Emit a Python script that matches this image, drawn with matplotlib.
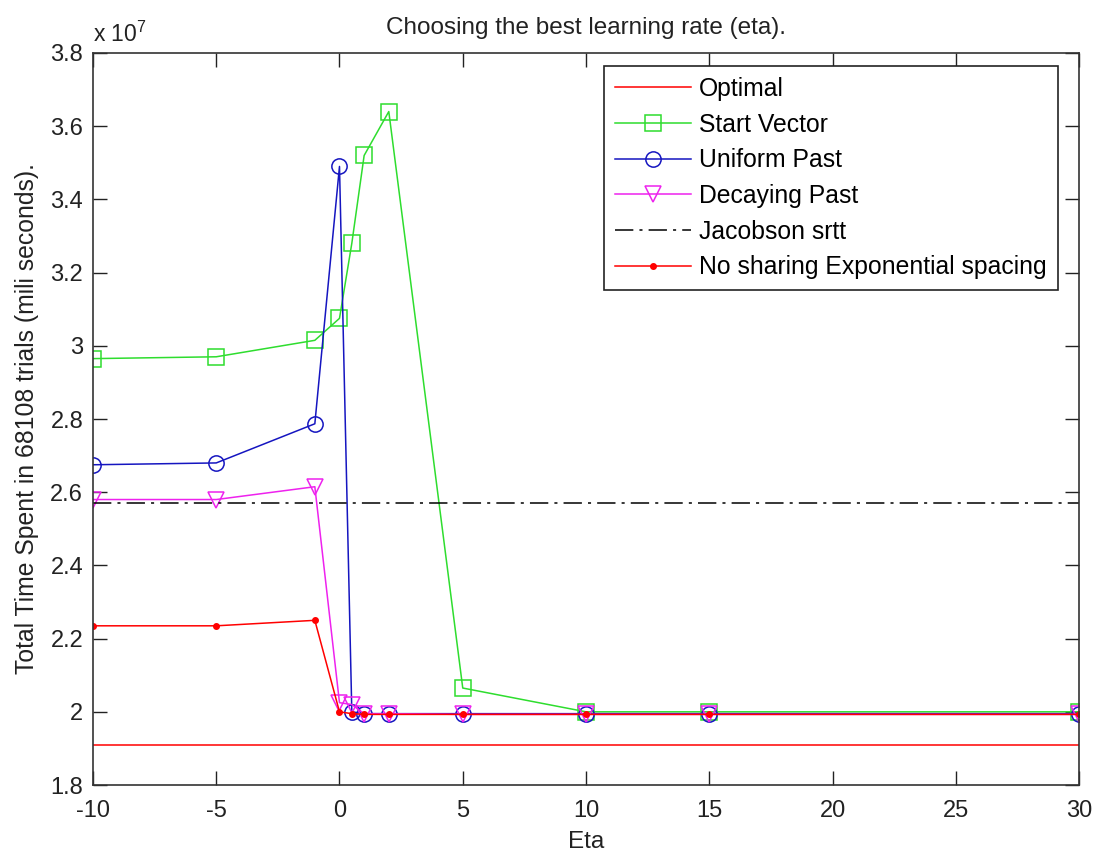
import numpy as np
import matplotlib
matplotlib.use("Agg")
import matplotlib.pyplot as plt
from matplotlib.ticker import FuncFormatter

plt.rcParams['font.family'] = ['Liberation Sans', 'DejaVu Sans']
plt.rcParams['axes.unicode_minus'] = False
plt.rcParams['mathtext.fontset'] = 'custom'
plt.rcParams['mathtext.rm'] = 'Liberation Sans'

# eta values tried
eta = [-10, -5, -1, 0, 0.5, 1, 2, 5, 10, 15, 30]

# total time spent (units of 1e7 ms)
start_vector = [2.965, 2.97, 3.015, 3.075, 3.28, 3.52, 3.64, 2.065, 2.0, 2.0, 2.0]
uniform_past = [2.675, 2.68, 2.787, 3.49, 2.0, 1.995, 1.995, 1.995, 1.995, 1.995, 1.995]
decaying_past = [2.58, 2.58, 2.615, 2.025, 2.02, 1.995, 1.995, 1.993, 1.993, 1.993, 1.993]
no_sharing = [2.235, 2.235, 2.25, 2.0, 1.995, 1.993, 1.993, 1.993, 1.993, 1.993, 1.993]
optimal = 1.909
jacobson = 2.57

scale = 1e7
x_range = [-10, 30]
fs = 17.5

fig = plt.figure(figsize=(11, 8.52), dpi=100)
ax = fig.add_axes([0.0845, 0.0786, 0.8965, 0.8592])

ax.plot(x_range, np.array([optimal, optimal]) * scale, color='red', lw=1.1,
        label='Optimal')
ax.plot(eta, np.array(start_vector) * scale, color='#2edd2e', lw=1.1,
        marker='s', ms=12, mfc='none', mec='#2edd2e', mew=1.1, label='Start Vector')
ax.plot(eta, np.array(uniform_past) * scale, color='#1515c0', lw=1.1,
        marker='o', ms=11, mfc='none', mec='#1515c0', mew=1.1, label='Uniform Past')
ax.plot(eta, np.array(decaying_past) * scale, color='#ee22ee', lw=1.1,
        marker='v', ms=12, mfc='none', mec='#ee22ee', mew=1.1, label='Decaying Past')
ax.plot(x_range, np.array([jacobson, jacobson]) * scale, color='black', lw=1.1,
        ls=(0, (12, 4, 2, 4)), label='Jacobson srtt')
ax.plot(eta, np.array(no_sharing) * scale, color='red', lw=1.1,
        marker='.', ms=8, label='No sharing Exponential spacing')

ax.set_xlim(-10, 30)
ax.set_ylim(1.8e7, 3.8e7)
ax.set_xticks(np.arange(-10, 31, 5))
ax.set_yticks(np.arange(1.8, 3.81, 0.2) * scale)
ax.yaxis.set_major_formatter(FuncFormatter(lambda v, p: ('%.1f' % (v / scale)).rstrip('0').rstrip('.')))
ax.tick_params(direction='in', length=10, width=1, top=True, right=True,
               labelsize=fs - 0.5, colors='#222222')
ax.tick_params(axis='x', pad=11)
ax.tick_params(axis='y', pad=7)
for s in ax.spines.values():
    s.set_color('#333333')
    s.set_linewidth(1.2)

ax.text(0.0, 1.015, r'x 10$^{7}$', transform=ax.transAxes, fontsize=fs - 1,
        ha='left', va='baseline', color='#222222')
ax.set_title('Choosing the best learning rate (eta).', fontsize=fs, pad=14, color='#222222')
ax.set_xlabel('Eta', fontsize=fs, labelpad=6, color='#222222')
ax.set_ylabel('Total Time Spent in 68108 trials (mili seconds).', fontsize=fs + 0.3,
              labelpad=8, color='#222222')

leg = ax.legend(loc='upper right', bbox_to_anchor=(0.9787, 0.9822), borderaxespad=0,
                fontsize=fs + 0.3, fancybox=False, framealpha=1, edgecolor='#222222',
                handlelength=3.1, handletextpad=0.32, labelspacing=0.47,
                borderpad=0.45)
leg.get_frame().set_linewidth(1.2)

fig.savefig('out.png', dpi=100, facecolor='white')
